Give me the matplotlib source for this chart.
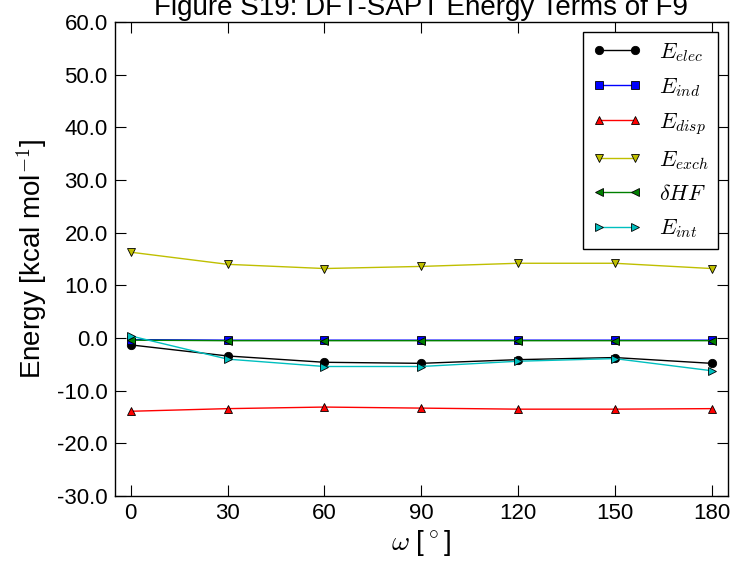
import matplotlib
matplotlib.use("Agg")
import matplotlib.pyplot as plt
from matplotlib.ticker import FormatStrFormatter

plt.rcParams['font.family'] = ['Liberation Sans', 'DejaVu Sans']
plt.rcParams['mathtext.fontset'] = 'cm'

omega = [0, 30, 60, 90, 120, 150, 180]
e_elec = [-1.3, -3.4, -4.6, -4.8, -4.1, -3.7, -4.8]
e_ind = [-0.3, -0.4, -0.4, -0.4, -0.4, -0.4, -0.4]
e_disp = [-13.9, -13.4, -13.1, -13.3, -13.5, -13.5, -13.4]
e_exch = [16.3, 14.0, 13.2, 13.6, 14.2, 14.2, 13.2]
d_hf = [-0.4, -0.5, -0.5, -0.5, -0.5, -0.5, -0.5]
e_int = [0.4, -4.0, -5.4, -5.4, -4.4, -3.9, -6.2]

series = [
    (e_elec, 'k', 'o', r'$E_{elec}$'),
    (e_ind, 'b', 's', r'$E_{ind}$'),
    (e_disp, 'r', '^', r'$E_{disp}$'),
    (e_exch, (0.75, 0.75, 0.0), 'v', r'$E_{exch}$'),
    (d_hf, (0.0, 0.5, 0.0), '<', r'$\delta HF$'),
    (e_int, (0.0, 0.75, 0.75), '>', r'$E_{int}$'),
]

fig = plt.figure(figsize=(7.35, 5.65), dpi=100)
ax = fig.add_axes([0.156, 0.122, 0.834, 0.839])

for vals, col, mk, lab in series:
    ax.plot(omega, vals, color=col, marker=mk, markersize=6,
            markerfacecolor=col, markeredgecolor='k', markeredgewidth=0.6,
            linewidth=1.0, label=lab)

ax.set_xlim(-5, 185)
ax.set_ylim(-30, 60)
ax.set_xticks(omega)
ax.set_yticks(range(-30, 61, 10))
ax.yaxis.set_major_formatter(FormatStrFormatter('%.1f'))
ax.tick_params(direction='in', length=8, width=0.8, top=True, right=True,
               labelsize=16, pad=5)
for sp in ax.spines.values():
    sp.set_linewidth(1.0)

ax.set_xlabel(r'$\omega$ [$^\circ$]', fontsize=20, labelpad=3)
ax.set_ylabel(r'Energy [kcal mol$^{-1}$]', fontsize=20, labelpad=6)
ax.set_title('Figure S19: DFT-SAPT Energy Terms of F9', fontsize=20, pad=5)

leg = ax.legend(loc='upper right', numpoints=2, fontsize=16, fancybox=False,
                framealpha=1, edgecolor='k', borderaxespad=0.45,
                handlelength=2.2, labelspacing=0.55)
leg.get_frame().set_linewidth(1.0)

fig.savefig('out.png', dpi=100)
